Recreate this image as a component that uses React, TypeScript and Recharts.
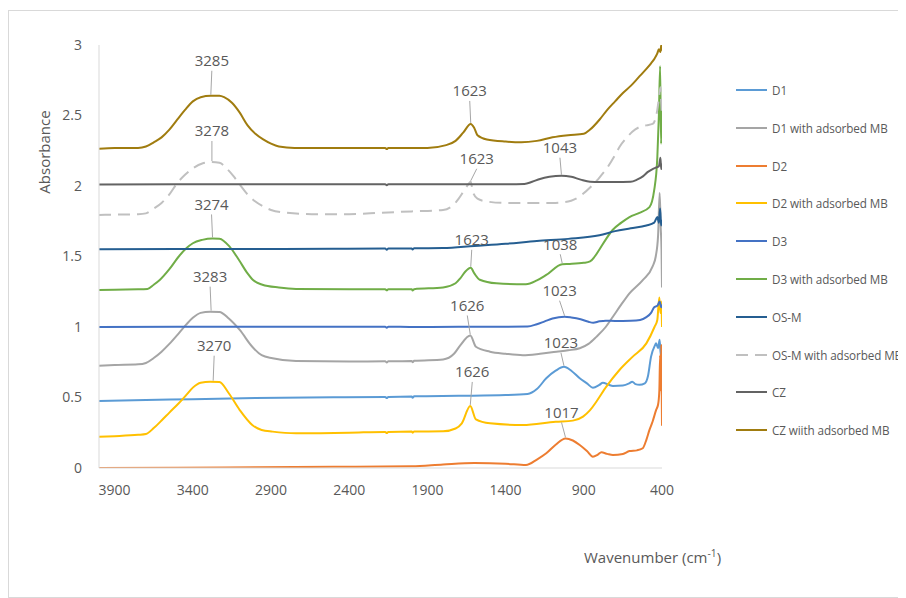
import React from 'react';
import { LineChart, Line, XAxis, YAxis, ReferenceDot } from 'recharts';

type Pt = [number, number];

const xTicks = [3900, 3400, 2900, 2400, 1900, 1400, 900, 400];
const yTicks = [0, 0.5, 1, 1.5, 2, 2.5, 3];

const seriesNames = [
  'D1',
  'D1 with adsorbed MB',
  'D2',
  'D2 with adsorbed MB',
  'D3',
  'D3 with adsorbed MB',
  'OS-M',
  'OS-M with adsorbed MB',
  'CZ',
  'CZ wiith adsorbed MB',
];

const d1: Pt[] = [[4000,0.475],[3700,0.482],[3400,0.488],[3000,0.497],[2500,0.502],[2170,0.504],[2160,0.496],[2150,0.504],[2000,0.507],[1995,0.498],[1985,0.508],[1700,0.512],[1400,0.517],[1260,0.525],[1200,0.56],[1140,0.636],[1080,0.69],[1027,0.718],[980,0.69],[926,0.636],[880,0.6],[842,0.57],[800,0.59],[778,0.605],[740,0.59],[714,0.582],[650,0.585],[610,0.6],[590,0.612],[570,0.595],[544,0.59],[510,0.6],[490,0.65],[470,0.79],[445,0.87],[438,0.884],[425,0.85],[415,0.91],[408,0.8],[403,0.86],[400,0.75]];

const d1mb: Pt[] = [[4000,0.725],[3900,0.73],[3750,0.735],[3700,0.745],[3650,0.78],[3600,0.825],[3550,0.88],[3490,0.955],[3440,1.02],[3400,1.065],[3350,1.1],[3290,1.109],[3230,1.107],[3170,1.06],[3100,0.979],[3020,0.86],[2960,0.8],[2890,0.778],[2740,0.758],[2400,0.755],[2170,0.757],[2160,0.749],[2150,0.757],[2000,0.758],[1995,0.75],[1985,0.76],[1800,0.77],[1730,0.81],[1690,0.87],[1626,0.94],[1590,0.86],[1500,0.825],[1400,0.81],[1290,0.8],[1180,0.81],[1075,0.825],[1000,0.835],[926,0.849],[870,0.88],[820,0.93],[760,1.0],[714,1.073],[660,1.16],[608,1.239],[523,1.333],[460,1.43],[440,1.5],[425,1.65],[415,1.95],[408,1.7],[403,1.55],[400,1.28]];

const d2: Pt[] = [[4000,0.0],[3500,0.001],[3000,0.005],[2500,0.008],[2000,0.012],[1800,0.025],[1600,0.035],[1400,0.03],[1270,0.021],[1200,0.06],[1140,0.104],[1080,0.165],[1017,0.21],[970,0.195],[926,0.163],[880,0.12],[842,0.08],[810,0.095],[788,0.111],[750,0.1],[714,0.092],[650,0.1],[608,0.12],[560,0.125],[523,0.14],[500,0.2],[480,0.27],[460,0.33],[438,0.41],[425,0.45],[417,0.55],[412,0.8],[408,0.55],[404,0.87],[400,0.3]];

const d2mb: Pt[] = [[4000,0.222],[3900,0.226],[3750,0.235],[3700,0.241],[3650,0.283],[3600,0.337],[3550,0.393],[3490,0.459],[3440,0.52],[3400,0.57],[3350,0.605],[3290,0.612],[3230,0.61],[3170,0.53],[3100,0.411],[3020,0.305],[2960,0.27],[2890,0.258],[2740,0.246],[2400,0.25],[2170,0.256],[2160,0.248],[2150,0.256],[2000,0.258],[1995,0.25],[1985,0.258],[1800,0.26],[1720,0.28],[1680,0.317],[1626,0.44],[1590,0.345],[1500,0.317],[1290,0.305],[1080,0.328],[970,0.336],[905,0.364],[860,0.41],[820,0.47],[756,0.577],[672,0.695],[587,0.79],[500,0.884],[448,1.0],[430,1.05],[417,1.21],[410,1.1],[404,1.18],[400,1.0]];

const d3: Pt[] = [[4000,1.0],[3500,1.002],[3000,1.002],[2500,1.002],[2170,1.002],[2160,0.995],[2150,1.002],[2000,1.0],[1700,1.002],[1400,1.002],[1260,1.003],[1200,1.02],[1150,1.04],[1100,1.06],[1023,1.073],[980,1.068],[920,1.055],[870,1.037],[840,1.03],[800,1.04],[760,1.045],[700,1.043],[600,1.045],[540,1.05],[500,1.07],[470,1.1],[450,1.14],[430,1.15],[415,1.18],[405,1.14],[400,1.16]];

const d3mb: Pt[] = [[4000,1.262],[3900,1.265],[3750,1.267],[3690,1.27],[3650,1.3],[3610,1.335],[3550,1.41],[3490,1.5],[3440,1.56],[3400,1.594],[3340,1.618],[3274,1.628],[3230,1.626],[3165,1.57],[3105,1.475],[3050,1.38],[3015,1.333],[2955,1.3],[2850,1.28],[2740,1.27],[2400,1.268],[2170,1.268],[2160,1.26],[2150,1.268],[2000,1.267],[1995,1.258],[1985,1.268],[1800,1.28],[1720,1.31],[1690,1.345],[1660,1.39],[1623,1.42],[1600,1.38],[1565,1.335],[1460,1.31],[1270,1.303],[1200,1.33],[1140,1.369],[1038,1.445],[990,1.447],[900,1.455],[860,1.465],[830,1.5],[800,1.55],[760,1.62],[716,1.688],[660,1.74],[608,1.78],[544,1.81],[480,1.85],[450,1.97],[430,2.2],[420,2.5],[412,2.85],[406,2.3],[400,2.6]];

const osm: Pt[] = [[4000,1.552],[3500,1.553],[3000,1.553],[2500,1.555],[2170,1.556],[2160,1.548],[2150,1.556],[2000,1.557],[1995,1.55],[1985,1.558],[1800,1.56],[1600,1.575],[1400,1.59],[1200,1.61],[1000,1.625],[800,1.65],[700,1.68],[600,1.7],[500,1.72],[450,1.74],[430,1.78],[420,1.74],[412,1.84],[406,1.72],[400,1.76]];

const osmmb: Pt[] = [[4000,1.795],[3900,1.797],[3750,1.8],[3700,1.806],[3650,1.84],[3600,1.88],[3550,1.94],[3500,2.02],[3450,2.08],[3400,2.125],[3340,2.16],[3278,2.17],[3230,2.165],[3180,2.12],[3140,2.07],[3100,2.01],[3050,1.94],[3000,1.89],[2950,1.855],[2900,1.83],[2800,1.81],[2600,1.8],[2400,1.8],[2200,1.81],[2000,1.82],[1800,1.83],[1740,1.86],[1700,1.91],[1670,1.96],[1640,2.01],[1623,2.03],[1610,1.96],[1580,1.91],[1520,1.89],[1400,1.88],[1290,1.88],[1100,1.88],[1000,1.89],[960,1.905],[910,1.94],[850,2.0],[800,2.06],[750,2.13],[700,2.22],[670,2.28],[620,2.35],[590,2.385],[540,2.42],[500,2.43],[460,2.44],[430,2.54],[420,2.62],[410,2.7],[405,2.6],[400,2.5]];

const cz: Pt[] = [[4000,2.01],[3500,2.012],[3000,2.012],[2500,2.012],[2170,2.013],[2160,2.006],[2150,2.013],[2000,2.013],[1700,2.013],[1400,2.013],[1280,2.015],[1230,2.03],[1180,2.05],[1120,2.065],[1043,2.073],[980,2.065],[920,2.045],[860,2.03],[800,2.028],[700,2.028],[600,2.03],[560,2.045],[520,2.07],[490,2.1],[460,2.12],[440,2.13],[420,2.14],[410,2.2],[405,2.12],[400,2.16]];

const czmb: Pt[] = [[4000,2.265],[3900,2.27],[3750,2.27],[3700,2.28],[3650,2.31],[3600,2.345],[3550,2.4],[3500,2.47],[3450,2.54],[3400,2.6],[3350,2.63],[3285,2.64],[3230,2.64],[3200,2.63],[3150,2.59],[3100,2.52],[3050,2.43],[3000,2.37],[2950,2.33],[2900,2.3],[2850,2.28],[2750,2.27],[2400,2.27],[2170,2.27],[2160,2.262],[2150,2.27],[1900,2.27],[1780,2.29],[1720,2.32],[1670,2.38],[1623,2.44],[1600,2.41],[1580,2.36],[1520,2.33],[1400,2.315],[1300,2.31],[1200,2.32],[1100,2.345],[1000,2.36],[900,2.37],[860,2.4],[800,2.47],[750,2.54],[700,2.6],[650,2.66],[600,2.71],[550,2.77],[500,2.83],[470,2.87],[450,2.9],[430,2.94],[420,2.97],[410,2.95],[405,3.0],[400,2.96]];

const seriesValues: Pt[][] = [d1, d1mb, d2, d2mb, d3, d3mb, osm, osmmb, cz, czmb];

// peak annotations: text, wavenumber, absorbance
const annotationTexts = ['3285','3278','3274','3283','3270','1623','1623','1043','1623','1038','1023','1626','1023','1626','1017'];
const annotationX = [3285, 3278, 3274, 3283, 3270, 1623, 1623, 1043, 1623, 1038, 1023, 1626, 1027, 1626, 1017];
const annotationY = [2.64, 2.17, 1.628, 1.109, 0.612, 2.44, 2.03, 2.073, 1.42, 1.445, 1.073, 0.94, 0.718, 0.44, 0.21];

// layout (pixel offsets of label centres from the marked point)
const labelOffsets: Pt[] = [[1,-35],[0,-31],[-1,-34],[-1,-35],[1,-36],[-1,-33],[6,-23],[-1.5,-28],[1,-28],[-2,-20],[-5,-26],[-3,-30],[-3,-24],[2,-34],[-4,-26]];

const colors = ['#5B9BD5','#A5A5A5','#ED7D31','#FFC000','#4472C4','#70AD47','#255E91','#C0C0C0','#636363','#A07C0F'];
const dashes = [undefined, undefined, undefined, undefined, undefined, undefined, undefined, '12 7', undefined, undefined];

const TEXT = '#595959';
const FONT = "'Open Sans', 'Noto Sans', sans-serif";

const Annotation = (props: any) => {
  const { cx, cy, text, dx, dy } = props;
  if (cx == null || cy == null) return null;
  const tx = cx + dx;
  const ty = cy + dy;
  return (
    <g>
      <line x1={tx} y1={ty + 10} x2={cx} y2={cy - 1} stroke="#A6A6A6" strokeWidth={1} />
      <text x={tx} y={ty} dy="0.36em" textAnchor="middle" fill={TEXT} fontSize={15} fontFamily={FONT}>
        {text}
      </text>
    </g>
  );
};

export default function App() {
  const seriesData = seriesValues.map((arr) => arr.map(([w, v]) => ({ w, v })));
  return (
    <div
      style={{
        position: 'relative',
        width: 898,
        height: 588,
        marginTop: 2,
        border: '1px solid #D9D9D9',
        boxSizing: 'border-box',
        fontFamily: FONT,
        background: '#fff',
      }}
    >
      <div style={{ position: 'absolute', left: 0, top: 0 }}>
        <LineChart
          width={880}
          height={570}
          margin={{ top: 34, right: 227, bottom: 83, left: 0 }}
        >
          <XAxis
            type="number"
            dataKey="w"
            domain={[400, 4000]}
            reversed
            ticks={xTicks}
            interval={0}
            allowDataOverflow
            height={30}
            axisLine={{ stroke: '#D9D9D9', strokeWidth: 1 }}
            tickLine={false}
            tickSize={6}
            tickMargin={11}
            tick={{ fill: TEXT, fontSize: 14, fontFamily: FONT }}
          />
          <YAxis
            type="number"
            domain={[0, 3]}
            ticks={yTicks}
            interval={0}
            allowDataOverflow
            width={90}
            axisLine={{ stroke: '#D9D9D9', strokeWidth: 1 }}
            tickLine={false}
            tickSize={6}
            tickMargin={11}
            tick={{ fill: TEXT, fontSize: 14, fontFamily: FONT }}
          />
          {seriesData.map((data, i) => (
            <Line
              key={seriesNames[i]}
              data={data}
              dataKey="v"
              name={seriesNames[i]}
              type="monotone"
              stroke={colors[i]}
              strokeWidth={2}
              strokeDasharray={dashes[i]}
              dot={false}
              activeDot={false}
              isAnimationActive={false}
            />
          ))}
          {annotationTexts.map((t, i) => (
            <ReferenceDot
              key={'a' + i}
              x={annotationX[i]}
              y={annotationY[i]}
              r={0}
              ifOverflow="visible"
              shape={(p: any) => (
                <Annotation cx={p.cx} cy={p.cy} text={t} dx={labelOffsets[i][0]} dy={labelOffsets[i][1]} />
              )}
            />
          ))}
        </LineChart>
      </div>

      {/* Y axis title */}
      <div
        style={{
          position: 'absolute',
          left: 35,
          top: 141,
          transform: 'translate(-50%, -50%) rotate(-90deg)',
          whiteSpace: 'nowrap',
          fontSize: 15,
          color: TEXT,
          lineHeight: '20px',
        }}
      >
        Absorbance
      </div>

      {/* X axis title */}
      <div
        style={{
          position: 'absolute',
          left: 575,
          top: 536,
          whiteSpace: 'nowrap',
          fontSize: 15,
          color: TEXT,
          lineHeight: '20px',
        }}
      >
        Wavenumber (cm<sup style={{ fontSize: '0.68em', lineHeight: 0 }}>-1</sup>)
      </div>

      {/* Legend */}
      {seriesNames.map((name, i) => (
        <div
          key={'lg' + i}
          style={{
            position: 'absolute',
            left: 727,
            top: 79 + i * 37.8 - 10,
            height: 20,
            display: 'flex',
            alignItems: 'center',
            whiteSpace: 'nowrap',
          }}
        >
          <svg width={31} height={4} style={{ display: 'block' }}>
            <line x1={0} y1={2} x2={31} y2={2} stroke={colors[i]} strokeWidth={2} strokeDasharray={dashes[i]} />
          </svg>
          <span style={{ marginLeft: 5, fontSize: 11.7, letterSpacing: -0.1, color: TEXT }}>{name}</span>
        </div>
      ))}
    </div>
  );
}
